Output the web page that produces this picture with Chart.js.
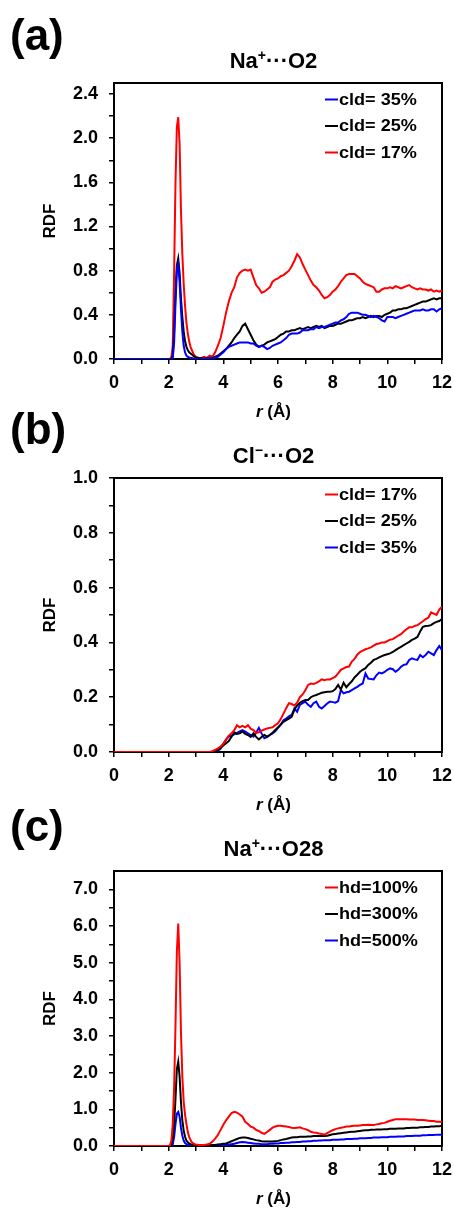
<!DOCTYPE html>
<html>
<head>
<meta charset="utf-8">
<script src="https://cdn.jsdelivr.net/npm/chart.js@4.4.0/dist/chart.umd.min.js"></script>
<style>
  html, body { margin: 0; padding: 0; background: #fff; }
  #figure { position: relative; width: 454px; height: 1209px; overflow: hidden; background: #fff; }
  #figure canvas { position: absolute; left: 0; }
</style>
</head>
<body>
<div id="figure">
  <canvas id="panelA" width="454" height="430" style="top:0px"></canvas>
  <canvas id="panelB" width="454" height="420" style="top:400px"></canvas>
  <canvas id="panelC" width="454" height="409" style="top:800px"></canvas>
</div>
<script>
// distance grid (Å): fine steps through the first shell, 0.1 afterwards
const r = [0,
  2.0, 2.05, 2.1, 2.15, 2.2, 2.25, 2.3, 2.35, 2.4, 2.45, 2.5, 2.55, 2.6, 2.65, 2.7, 2.75, 2.8, 2.85, 2.9, 2.95, 3.0,
  3.1, 3.2, 3.3, 3.4, 3.5, 3.6, 3.7, 3.8, 3.9, 4.0,
  4.1, 4.2, 4.3, 4.4, 4.5, 4.6, 4.7, 4.8, 4.9, 5.0,
  5.1, 5.2, 5.3, 5.4, 5.5, 5.6, 5.7, 5.8, 5.9, 6.0,
  6.1, 6.2, 6.3, 6.4, 6.5, 6.6, 6.7, 6.8, 6.9, 7.0,
  7.1, 7.2, 7.3, 7.4, 7.5, 7.6, 7.7, 7.8, 7.9, 8.0,
  8.1, 8.2, 8.3, 8.4, 8.5, 8.6, 8.7, 8.8, 8.9, 9.0,
  9.1, 9.2, 9.3, 9.4, 9.5, 9.6, 9.7, 9.8, 9.9, 10.0,
  10.1, 10.2, 10.3, 10.4, 10.5, 10.6, 10.7, 10.8, 10.9, 11.0,
  11.1, 11.2, 11.3, 11.4, 11.5, 11.6, 11.7, 11.8, 11.9, 12.0];

// (a) Na+ ... O2
const aLabels = ['cld= 35%', 'cld= 25%', 'cld= 17%'];
const aCld35 = [0,
  0, 0, 0, 0.01, 0.15, 0.5, 0.8, 0.86, 0.7, 0.45, 0.25, 0.12, 0.06, 0.03, 0.02, 0.015, 0.01, 0.01, 0.005, 0, 0,
  0, 0.005, 0, 0.005, 0.01, 0.005, 0.01, 0.02, 0.04, 0.06,
  0.09, 0.11, 0.12, 0.13, 0.14, 0.15, 0.15, 0.15, 0.15, 0.14,
  0.14, 0.12, 0.11, 0.12, 0.11, 0.09, 0.10, 0.12, 0.13, 0.14,
  0.15, 0.17, 0.19, 0.22, 0.23, 0.23, 0.23, 0.24, 0.26, 0.26,
  0.26, 0.27, 0.27, 0.29, 0.28, 0.29, 0.29, 0.30, 0.31, 0.32,
  0.33, 0.33, 0.35, 0.36, 0.38, 0.41, 0.42, 0.42, 0.42, 0.41,
  0.40, 0.40, 0.39, 0.38, 0.39, 0.38, 0.37, 0.35, 0.34, 0.38,
  0.38, 0.38, 0.37, 0.38, 0.39, 0.40, 0.41, 0.42, 0.43, 0.44,
  0.44, 0.44, 0.45, 0.44, 0.44, 0.45, 0.45, 0.43, 0.45, 0.46];
const aCld25 = [0,
  0, 0, 0, 0.03, 0.25, 0.6, 0.85, 0.91, 0.78, 0.55, 0.38, 0.25, 0.16, 0.11, 0.08, 0.06, 0.05, 0.04, 0.03, 0.02, 0.01,
  0.01, 0.01, 0, 0.01, 0, 0.01, 0.02, 0.03, 0.05, 0.07,
  0.09, 0.12, 0.15, 0.19, 0.22, 0.25, 0.30, 0.32, 0.27, 0.22,
  0.17, 0.13, 0.11, 0.12, 0.13, 0.15, 0.16, 0.17, 0.18, 0.20,
  0.22, 0.23, 0.25, 0.25, 0.26, 0.26, 0.27, 0.28, 0.27, 0.28,
  0.29, 0.28, 0.29, 0.30, 0.29, 0.30, 0.28, 0.29, 0.30, 0.30,
  0.31, 0.32, 0.32, 0.33, 0.34, 0.35, 0.35, 0.36, 0.37, 0.37,
  0.38, 0.37, 0.38, 0.39, 0.38, 0.39, 0.39, 0.38, 0.40, 0.41,
  0.42, 0.44, 0.44, 0.45, 0.45, 0.46, 0.46, 0.47, 0.48, 0.49,
  0.50, 0.51, 0.52, 0.52, 0.53, 0.54, 0.55, 0.54, 0.55, 0.55];
const aCld17 = [0,
  0, 0, 0.02, 0.12, 0.8, 1.6, 2.1, 2.19, 1.95, 1.35, 0.95, 0.68, 0.48, 0.33, 0.23, 0.16, 0.11, 0.08, 0.05, 0.03, 0.02,
  0.01, 0.01, 0.02, 0.01, 0.03, 0.02, 0.06, 0.12, 0.19, 0.30,
  0.42, 0.52, 0.60, 0.65, 0.74, 0.78, 0.80, 0.81, 0.80, 0.81,
  0.74, 0.67, 0.64, 0.60, 0.61, 0.63, 0.65, 0.70, 0.72, 0.73,
  0.75, 0.76, 0.78, 0.80, 0.84, 0.89, 0.95, 0.92, 0.86, 0.81,
  0.76, 0.71, 0.67, 0.65, 0.62, 0.58, 0.55, 0.56, 0.58, 0.61,
  0.63, 0.66, 0.70, 0.73, 0.76, 0.77, 0.77, 0.77, 0.75, 0.73,
  0.70, 0.68, 0.67, 0.66, 0.65, 0.61, 0.61, 0.63, 0.64, 0.64,
  0.65, 0.64, 0.66, 0.65, 0.64, 0.65, 0.66, 0.67, 0.65, 0.64,
  0.63, 0.64, 0.63, 0.63, 0.62, 0.63, 0.61, 0.62, 0.61, 0.62];

// (b) Cl- ... O2
const bLabels = ['cld= 17%', 'cld= 25%', 'cld= 35%'];
const bCld17 = [0,
  0, 0, 0, 0, 0, 0, 0, 0, 0, 0, 0, 0, 0, 0, 0, 0, 0, 0, 0, 0, 0,
  0, 0, 0, 0, 0, 0.003, 0.008, 0.013, 0.02, 0.03,
  0.045, 0.06, 0.068, 0.08, 0.098, 0.09, 0.095, 0.09, 0.098, 0.085,
  0.08, 0.07, 0.072, 0.078, 0.082, 0.086, 0.088, 0.09, 0.098, 0.105,
  0.12, 0.14, 0.16, 0.178, 0.175, 0.17, 0.18, 0.2, 0.21, 0.225,
  0.245, 0.25, 0.248, 0.252, 0.258, 0.265, 0.262, 0.265, 0.265, 0.27,
  0.275, 0.287, 0.3, 0.305, 0.31, 0.312, 0.33, 0.34, 0.355, 0.365,
  0.37, 0.375, 0.378, 0.382, 0.388, 0.394, 0.396, 0.40, 0.40, 0.405,
  0.41, 0.412, 0.418, 0.425, 0.43, 0.44, 0.448, 0.455, 0.455, 0.46,
  0.463, 0.47, 0.477, 0.485, 0.49, 0.51, 0.505, 0.50, 0.52, 0.53];
const bCld25 = [0,
  0, 0, 0, 0, 0, 0, 0, 0, 0, 0, 0, 0, 0, 0, 0, 0, 0, 0, 0, 0, 0,
  0, 0, 0, 0, 0, 0, 0.002, 0.007, 0.015, 0.024,
  0.032, 0.04, 0.056, 0.072, 0.066, 0.068, 0.075, 0.066, 0.062, 0.055,
  0.068, 0.055, 0.046, 0.055, 0.062, 0.056, 0.062, 0.07, 0.08, 0.09,
  0.1, 0.11, 0.116, 0.122, 0.128, 0.155, 0.17, 0.18, 0.186, 0.19,
  0.19, 0.2, 0.205, 0.208, 0.212, 0.216, 0.218, 0.22, 0.22, 0.222,
  0.23, 0.245, 0.228, 0.253, 0.236, 0.248, 0.258, 0.272, 0.282, 0.293,
  0.3, 0.306, 0.318, 0.326, 0.336, 0.34, 0.345, 0.35, 0.354, 0.357,
  0.36, 0.365, 0.372, 0.378, 0.384, 0.39, 0.396, 0.402, 0.409, 0.414,
  0.42, 0.44, 0.457, 0.46, 0.461, 0.463, 0.47, 0.475, 0.478, 0.485];
const bCld35 = [0,
  0, 0, 0, 0, 0, 0, 0, 0, 0, 0, 0, 0, 0, 0, 0, 0, 0, 0, 0, 0, 0,
  0, 0, 0, 0, 0, 0, 0, 0.004, 0.012, 0.03,
  0.045, 0.056, 0.06, 0.064, 0.07, 0.075, 0.08, 0.074, 0.068, 0.062,
  0.056, 0.07, 0.088, 0.068, 0.05, 0.054, 0.062, 0.068, 0.076, 0.088,
  0.1, 0.116, 0.122, 0.13, 0.135, 0.159, 0.147, 0.172, 0.178, 0.184,
  0.172, 0.165, 0.178, 0.184, 0.165, 0.159, 0.168, 0.177, 0.184, 0.182,
  0.18, 0.186, 0.226, 0.214, 0.218, 0.22, 0.226, 0.232, 0.238, 0.245,
  0.25, 0.287, 0.268, 0.266, 0.265, 0.28, 0.29, 0.287, 0.292, 0.30,
  0.305, 0.302, 0.293, 0.30, 0.311, 0.318, 0.32, 0.336, 0.342, 0.338,
  0.336, 0.354, 0.346, 0.354, 0.366, 0.36, 0.354, 0.372, 0.387, 0.372];

// (c) Na+ ... O28
const cLabels = ['hd=100%', 'hd=300%', 'hd=500%'];
const cHd100 = [0,
  0, 0.02, 0.15, 0.6, 1.6, 3.3, 5.3, 6.07, 5.0, 3.1, 1.9, 1.2, 0.85, 0.6, 0.38, 0.25, 0.16, 0.1, 0.07, 0.05, 0.04,
  0.03, 0.03, 0.03, 0.04, 0.06, 0.12, 0.2, 0.3, 0.44, 0.58,
  0.7, 0.8, 0.9, 0.93, 0.91, 0.86, 0.8, 0.66, 0.6, 0.53,
  0.5, 0.44, 0.41, 0.36, 0.33, 0.38, 0.44, 0.5, 0.53, 0.55,
  0.55, 0.54, 0.53, 0.52, 0.5, 0.49, 0.5, 0.51, 0.48, 0.46,
  0.43, 0.39, 0.37, 0.36, 0.34, 0.33, 0.31, 0.35, 0.39, 0.43,
  0.46, 0.48, 0.5, 0.51, 0.53, 0.53, 0.545, 0.55, 0.55, 0.56,
  0.57, 0.57, 0.58, 0.57, 0.57, 0.59, 0.6, 0.62, 0.63, 0.66,
  0.69, 0.71, 0.73, 0.73, 0.73, 0.73, 0.73, 0.72, 0.72, 0.72,
  0.71, 0.71, 0.71, 0.7, 0.69, 0.68, 0.68, 0.66, 0.66, 0.66];
const cHd300 = [0,
  0, 0, 0.03, 0.2, 0.6, 1.3, 2.1, 2.3, 1.9, 1.2, 0.7, 0.42, 0.25, 0.15, 0.1, 0.07, 0.05, 0.04, 0.03, 0.025, 0.02,
  0.02, 0.02, 0.02, 0.02, 0.02, 0.03, 0.03, 0.04, 0.05, 0.06,
  0.07, 0.1, 0.13, 0.16, 0.19, 0.22, 0.23, 0.23, 0.22, 0.2,
  0.18, 0.16, 0.15, 0.13, 0.12, 0.12, 0.12, 0.12, 0.13, 0.14,
  0.16, 0.18, 0.19, 0.21, 0.23, 0.24, 0.24, 0.25, 0.25, 0.25,
  0.26, 0.26, 0.27, 0.27, 0.27, 0.27, 0.27, 0.28, 0.3, 0.32,
  0.33, 0.34, 0.35, 0.36, 0.37, 0.38, 0.39, 0.39, 0.4, 0.41,
  0.42, 0.43, 0.43, 0.44, 0.44, 0.45, 0.45, 0.45, 0.46, 0.46,
  0.47, 0.47, 0.47, 0.48, 0.48, 0.48, 0.49, 0.49, 0.5, 0.5,
  0.5, 0.51, 0.51, 0.52, 0.52, 0.53, 0.53, 0.54, 0.54, 0.55];
const cHd500 = [0,
  0, 0, 0.01, 0.05, 0.25, 0.6, 0.88, 0.93, 0.8, 0.5, 0.28, 0.15, 0.08, 0.05, 0.03, 0.025, 0.02, 0.015, 0.01, 0.01, 0.01,
  0.01, 0.01, 0.01, 0.01, 0.01, 0.01, 0.01, 0.01, 0.02, 0.02,
  0.03, 0.04, 0.05, 0.06, 0.08, 0.1, 0.11, 0.1, 0.09, 0.08,
  0.07, 0.06, 0.06, 0.05, 0.05, 0.05, 0.06, 0.06, 0.07, 0.07,
  0.08, 0.08, 0.09, 0.09, 0.1, 0.1, 0.11, 0.11, 0.12, 0.12,
  0.13, 0.13, 0.14, 0.14, 0.15, 0.15, 0.16, 0.16, 0.16, 0.17,
  0.17, 0.17, 0.18, 0.18, 0.19, 0.19, 0.19, 0.2, 0.2, 0.21,
  0.21, 0.21, 0.22, 0.22, 0.23, 0.23, 0.23, 0.24, 0.24, 0.24,
  0.25, 0.25, 0.25, 0.26, 0.26, 0.26, 0.27, 0.27, 0.27, 0.28,
  0.28, 0.28, 0.29, 0.29, 0.3, 0.3, 0.3, 0.31, 0.31, 0.31];

const RED = '#ff0000', BLACK = '#000000', BLUE = '#0000ff';
const FONT = '"Liberation Sans", Arial, sans-serif';

// draws a line of mixed runs: [text, kind] with kind '', 'sup' or 'it'
function drawRuns(ctx, runs, cx, baseline, size) {
  const fonts = runs.map(([, k]) =>
    k === 'sup' ? `bold ${Math.round(size * 0.62)}px ${FONT}` :
    k === 'it' ? `italic bold ${size}px ${FONT}` : `bold ${size}px ${FONT}`);
  const widths = runs.map(([t], i) => { ctx.font = fonts[i]; return ctx.measureText(t).width; });
  let x = cx - widths.reduce((s, w) => s + w, 0) / 2;
  runs.forEach(([t, k], i) => {
    ctx.font = fonts[i];
    ctx.fillText(t, x, baseline - (k === 'sup' ? size * 0.38 : 0));
    x += widths[i];
  });
}

// frame under the curves, labels / legend on top
const panelDecor = {
  id: 'panelDecor',
  beforeDatasetsDraw(chart) {
    const { ctx, chartArea: a } = chart;
    ctx.save();
    ctx.strokeStyle = '#000';
    ctx.lineWidth = 2;
    ctx.strokeRect(a.left, a.top, a.right - a.left, a.bottom - a.top);
    ctx.restore();
  },
  afterDraw(chart, args, o) {
    const { ctx, chartArea: a } = chart;
    ctx.save();
    ctx.fillStyle = '#000';
    ctx.textBaseline = 'alphabetic';
    ctx.textAlign = 'left';
    ctx.font = `bold 44px ${FONT}`;
    ctx.fillText(o.letter, 10, o.letterY);

    drawRuns(ctx, o.title, 273.5, a.top - 15, 22);
    drawRuns(ctx, [['r', 'it'], [' (Å)', '']], 273.5, a.bottom + 57.5, 17);

    ctx.save();
    ctx.translate(50, (a.top + a.bottom) / 2);
    ctx.rotate(-Math.PI / 2);
    ctx.textAlign = 'center';
    ctx.textBaseline = 'middle';
    ctx.font = `bold 17px ${FONT}`;
    ctx.fillText('RDF', 0, 0);
    ctx.restore();

    // legend in the upper right corner, type a little wide
    ctx.font = `bold 16px ${FONT}`;
    ctx.textBaseline = 'middle';
    chart.data.datasets.forEach((ds, i) => {
      const y = a.top + 16.5 + 26.5 * i;
      ctx.strokeStyle = ds.borderColor;
      ctx.lineWidth = 2;
      ctx.beginPath();
      ctx.moveTo(325, y);
      ctx.lineTo(338, y);
      ctx.stroke();
      ctx.save();
      ctx.translate(339, y + 1);
      ctx.scale(1.13, 1);
      ctx.fillText(ds.label, 0, 0);
      ctx.restore();
    });
    ctx.restore();
  }
};

function makePanel(id, p) {
  const tickFont = { family: FONT, size: 18, weight: 'bold' };
  return new Chart(document.getElementById(id), {
    type: 'line',
    data: {
      datasets: p.series.map(([label, values, color]) => ({
        label,
        data: r.map((x, i) => ({ x, y: values[i] })),
        borderColor: color,
        borderWidth: 2,
        pointRadius: 0,
        fill: false,
        tension: 0
      }))
    },
    options: {
      responsive: false,
      animation: false,
      events: [],
      layout: { padding: { left: 0, right: 12, top: p.top, bottom: p.bottom } },
      plugins: {
        legend: { display: false },
        tooltip: { enabled: false },
        panelDecor: { letter: p.letter, letterY: p.letterY, title: p.title }
      },
      scales: {
        x: {
          type: 'linear', min: 0, max: 12,
          // fixed box; end labels may hang over the plot edges
          afterFit: s => { s.height = 30; s.paddingLeft = 0; s.paddingRight = 0; },
          border: { display: false },
          grid: { drawOnChartArea: false, color: '#000', lineWidth: 1.5, tickLength: 5 },
          ticks: {
            stepSize: 1, autoSkip: false, maxRotation: 0, padding: 8, color: '#000', font: tickFont,
            callback: v => (Math.round(v) % 2 === 0 ? String(Math.round(v)) : '')
          }
        },
        y: {
          min: 0, max: p.yMax,
          afterFit: s => { s.width = 114; s.paddingTop = 0; s.paddingBottom = 0; },
          afterBuildTicks: s => { s.ticks = s.ticks.filter(t => t.value <= p.yTop + 1e-9); },
          border: { display: false },
          grid: { drawOnChartArea: false, color: '#000', lineWidth: 1.5, tickLength: 5 },
          ticks: {
            stepSize: p.yMinor, includeBounds: false, autoSkip: false, padding: 11, color: '#000', font: tickFont,
            callback: v => (Math.abs(v / p.yMajor - Math.round(v / p.yMajor)) < 1e-6 ? v.toFixed(1) : '')
          }
        }
      }
    },
    plugins: [panelDecor]
  });
}

makePanel('panelA', {
  letter: '(a)', letterY: 50, top: 83, bottom: 41,
  title: [['Na', ''], ['+', 'sup'], ['···O2', '']],
  yMax: 2.5, yTop: 2.4, yMajor: 0.4, yMinor: 0.2,
  series: [[aLabels[0], aCld35, BLUE], [aLabels[1], aCld25, BLACK], [aLabels[2], aCld17, RED]]
});
makePanel('panelB', {
  letter: '(b)', letterY: 44, top: 78, bottom: 38,
  title: [['Cl', ''], ['−', 'sup'], ['···O2', '']],
  yMax: 1.0, yTop: 1.0, yMajor: 0.2, yMinor: 0.1,
  series: [[bLabels[0], bCld17, RED], [bLabels[1], bCld25, BLACK], [bLabels[2], bCld35, BLUE]]
});
makePanel('panelC', {
  letter: '(c)', letterY: 41, top: 71, bottom: 33,
  title: [['Na', ''], ['+', 'sup'], ['···O28', '']],
  yMax: 7.5, yTop: 7.0, yMajor: 1.0, yMinor: 0.5,
  series: [[cLabels[0], cHd100, RED], [cLabels[1], cHd300, BLACK], [cLabels[2], cHd500, BLUE]]
});
</script>
</body>
</html>
